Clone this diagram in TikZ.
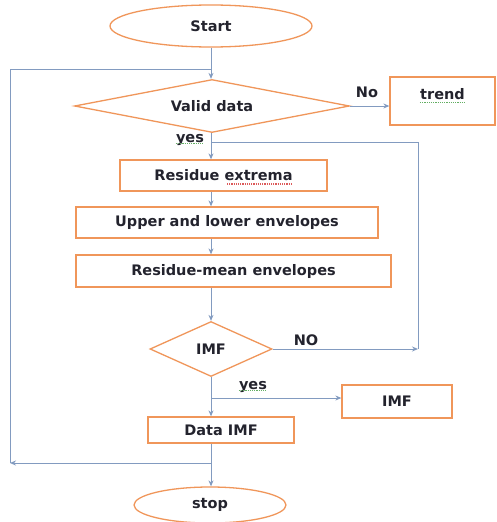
\documentclass[tikz,border=0pt]{standalone}
\usepackage{fontspec}
\setmainfont{DejaVu Sans}
\usetikzlibrary{shapes.geometric,arrows.meta}
\definecolor{boxor}{RGB}{240,150,90}
\definecolor{lineb}{RGB}{130,155,192}
\definecolor{txt}{RGB}{35,35,45}
\definecolor{sqgreen}{RGB}{100,175,100}
\definecolor{sqred}{RGB}{220,90,90}
\begin{document}
\begin{tikzpicture}[x=1pt,y=-1pt,
  lbl/.style={font=\bfseries\fontsize{14.5}{16}\selectfont,text=txt,inner sep=0},
  box/.style={lbl,draw=boxor,line width=1.3pt,fill=white,rectangle},
  oval/.style={lbl,draw=boxor,line width=1.3pt,fill=white,ellipse},
  dia/.style={lbl,draw=boxor,line width=1.3pt,fill=white,diamond},
  conn/.style={draw=lineb,line width=1pt},
  tip/.style={-{Stealth[length=6pt,width=5pt]}},
  squig/.style={line width=1.2pt,densely dotted}
]
\useasboundingbox (0,0) rectangle (496,522);
\fill[white] (0,0) rectangle (496,522);

\node[oval,minimum width=202,minimum height=42] (start) at (211,26) {Start};
\node[dia,aspect=5.2,minimum width=275,minimum height=53] (valid) at (212,106) {Valid data};
\node[box,minimum width=105,minimum height=48] (trend) at (442.5,101) {};
\node[lbl] (trendt) at (442.5,94) {trend};
\node[box,minimum width=207,minimum height=31] (rext) at (223.5,175.5) {Residue extrema};
\node[box,minimum width=302,minimum height=31] (env) at (227,222.5) {Upper and lower envelopes};
\node[box,minimum width=315,minimum height=32] (mean) at (233.5,271) {Residue-mean envelopes};
\node[dia,aspect=2.2,minimum width=122,minimum height=55] (imf) at (211,349) {IMF};
\node[box,minimum width=110,minimum height=33] (imfout) at (397,401.5) {IMF};
\node[box,minimum width=146,minimum height=26] (data) at (221,430) {Data IMF};
\node[oval,minimum width=152,minimum height=36] (stop) at (210,505) {stop};

\node[lbl] (no1) at (367,92) {No};
\node[lbl] (yes1) at (190,140) {yes};
\node[lbl] (no2) at (306,340) {NO};
\node[lbl] (yes2) at (253,387) {yes};

% spell-check squiggles
\draw[squig,sqgreen] ([yshift=2pt]yes1.south west) -- ([yshift=2pt]yes1.south east);
\draw[squig,sqgreen] ([yshift=2pt]yes2.south west) -- ([yshift=2pt]yes2.south east);
\draw[squig,sqgreen] ([yshift=-3pt]trendt.base west) -- ([yshift=-3pt]trendt.base east);
\draw[squig,sqred] (227,184) -- (292,184);

\coordinate (lt) at (10,69);
\coordinate (lb) at (10,463);
\coordinate (b1) at (211,142);
\coordinate (rc) at (418,142);
\coordinate (rn) at (418,349);
\coordinate (b2) at (211,398);
\coordinate (b3) at (211,463);

\draw[conn,tip] (start.south) -- (valid.north -| start.south);
\draw[conn,tip] (b3) -- (lb);
\draw[conn] (lb) -- (lt) -- (start.south |- lt);
\draw[conn,tip] (valid.east) -- (trend.west |- valid.east);
\draw[conn,tip] (valid.south -| start.south) -- (rext.north -| start.south);
\draw[conn] (b1) -- (rc) -- (rn);
\draw[conn,tip] (imf.east) -- (rn);
\draw[conn,tip] (rext.south -| start.south) -- (env.north -| start.south);
\draw[conn,tip] (env.south -| start.south) -- (mean.north -| start.south);
\draw[conn,tip] (mean.south -| start.south) -- (imf.north);
\draw[conn,tip] (imf.south) -- (data.north -| imf.south);
\draw[conn,tip] (b2) -- (imfout.west |- b2);
\draw[conn,tip] (data.south -| start.south) -- (stop.north -| start.south);
\end{tikzpicture}
\end{document}
